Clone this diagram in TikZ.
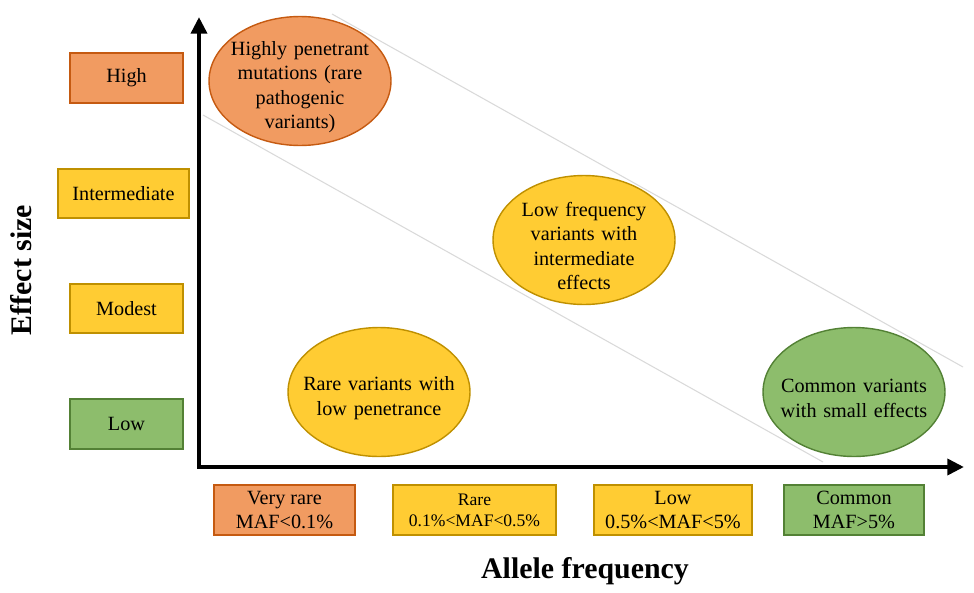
\documentclass[tikz,border=0pt]{standalone}
\usepackage{fontspec}
\setmainfont{Liberation Serif}
\usetikzlibrary{arrows.meta,shapes.geometric}

\definecolor{hifill}{HTML}{F19B61}
\definecolor{hiline}{HTML}{C55A11}
\definecolor{midfill}{HTML}{FFCC33}
\definecolor{midline}{HTML}{BF9000}
\definecolor{lofill}{HTML}{8DBD6C}
\definecolor{loline}{HTML}{538135}
\definecolor{guide}{HTML}{D9D9D9}

\begin{document}
\begin{tikzpicture}[x=0.02cm,y=-0.02cm,
        box/.style={draw,line width=0.8pt,inner sep=0pt,align=center,minimum height=1cm,
            font=\fontsize{11.5}{13.5}\selectfont},
        blob/.style={ellipse,draw,line width=0.8pt,inner xsep=-9pt,inner ysep=-8pt,
            text width=90pt,text height=15pt,align=center,minimum width=3.64cm,minimum height=2.58cm,
            font=\fontsize{11.5}{14}\selectfont},
        hi/.style={fill=hifill,draw=hiline},
        mid/.style={fill=midfill,draw=midline},
        lo/.style={fill=lofill,draw=loline},
        axislabel/.style={font=\bfseries\fontsize{17}{20}\selectfont}]
    \useasboundingbox (0,0) rectangle (974,592);

    % guide lines
    \coordinate (g1a) at (332,14);
    \coordinate (g1b) at (963,367);
    \coordinate (g2a) at (203,115);
    \coordinate (g2b) at (823,462);
    \draw [guide,line width=0.6pt] (g1a) -- (g1b);
    \draw [guide,line width=0.6pt] (g2a) -- (g2b);

    % axes
    \coordinate (ytip) at (199,17);
    \coordinate (orig) at (199,467);
    \coordinate (xtip) at (964,467);
    \draw [line width=2.8pt,{Triangle[length=9.5pt,width=9pt]}-{Triangle[length=9.5pt,width=9pt]}]
        (ytip) -- (orig) -- (xtip);

    % effect size boxes
    \node [box,hi,minimum width=2.26cm] (high) at (126.5,78) {High};
    \node [box,mid,minimum width=2.62cm,minimum height=0.98cm] (inter) at (123.5,193.5) {Intermediate};
    \node [box,mid,minimum width=2.26cm,minimum height=0.98cm] (modest) at (126.5,308.5) {Modest};
    \node [box,lo,minimum width=2.26cm] (low) at (126.5,424) {Low};

    % frequency boxes
    \node [box,hi,minimum width=2.82cm] (vrare) at (284.5,510) {Very rare\\MAF<0.1\%};
    \node [box,mid,minimum width=3.26cm,font=\fontsize{10}{12}\selectfont] (rare) at (474.5,510) {Rare\\0.1\%<MAF<0.5\%};
    \node [box,mid,minimum width=3.16cm] (lowf) at (673,510) {Low\\0.5\%<MAF<5\%};
    \node [box,lo,minimum width=2.8cm] (common) at (854,510) {Common\\MAF>5\%};

    % variant classes
    \node [blob,hi] (penetrant) at (300,81) {Highly penetrant\\mutations (rare\\pathogenic\\variants)};
    \node [blob,mid] (lowfreq) at (584,240) {Low frequency\\variants with\\intermediate\\effects};
    \node [blob,mid] (rarevar) at (379,392) {Rare variants with\\low penetrance};
    \node [blob,lo] (commonvar) at (854,392) {Common variants\\with small effects};

    % axis titles
    \node [axislabel,rotate=90] (ylab) at (21,270) {Effect size};
    \node [axislabel] (xlab) at (585,571) {Allele frequency};
\end{tikzpicture}
\end{document}
